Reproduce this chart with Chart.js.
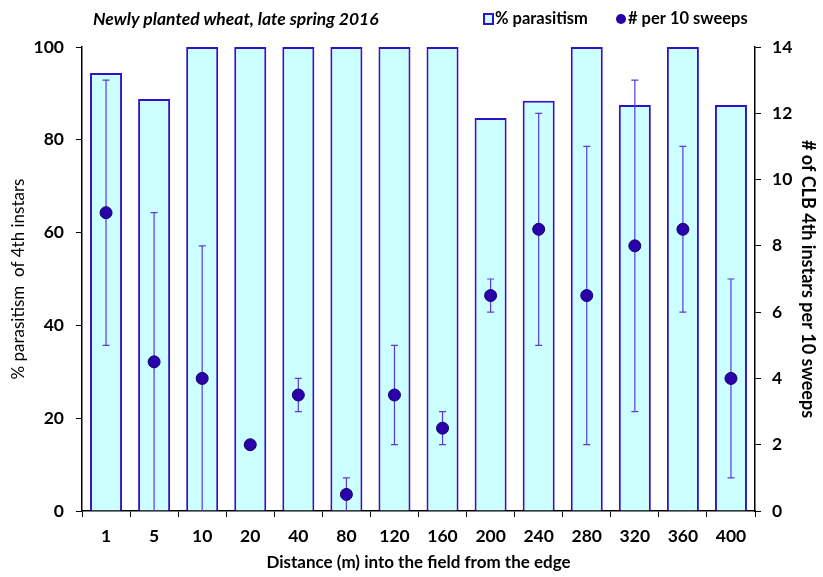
<!DOCTYPE html>
<html>
<head>
<meta charset="utf-8">
<script src="https://cdn.jsdelivr.net/npm/chart.js@4/dist/chart.umd.min.js"></script>
<style>
html,body{margin:0;padding:0;background:#fff;}
#wrap{position:relative;width:823px;height:577px;}
</style>
</head>
<body>
<div id="wrap"><canvas id="c" width="823" height="577"></canvas></div>
<script>
const categories = ["1","5","10","20","40","80","120","160","200","240","280","320","360","400"];
const parasitism = [94.4, 88.8, 100, 100, 100, 100, 100, 100, 84.7, 88.4, 100, 87.5, 100, 87.5];
const perSweeps = [9, 4.5, 4, 2, 3.5, 0.5, 3.5, 2.5, 6.5, 8.5, 6.5, 8, 8.5, 4];
const errLow =  [5, 0, 0, 2, 3, 0, 2, 2, 6, 5, 2, 3, 6, 1];
const errHigh = [13, 9, 8, 2, 4, 1, 5, 3, 7, 12, 11, 13, 11, 7];
const leftTicks = [0, 20, 40, 60, 80, 100];
const rightTicks = [0, 2, 4, 6, 8, 10, 12, 14];

const FONT = 'Lato, "Open Sans", sans-serif';
const barFill = '#ccffff';
const barBorder = '#3311cc';
const pointColor = '#2a00a8';
const errColor = '#5a3ae0';

const errorBars = {
  id: 'errorBars',
  beforeDatasetDraw(chart, args) {
    if (args.index !== 1) return;
    const ctx = chart.ctx;
    const x = chart.scales.x, y = chart.scales.y1;
    ctx.save();
    ctx.strokeStyle = errColor;
    ctx.lineWidth = 1.2;
    categories.forEach((c, i) => {
      if (errLow[i] === errHigh[i]) return;
      const px = x.getPixelForValue(i);
      const lo = y.getPixelForValue(errLow[i]);
      const hi = y.getPixelForValue(errHigh[i]);
      ctx.beginPath();
      ctx.moveTo(px, lo); ctx.lineTo(px, hi);
      ctx.moveTo(px - 3.5, hi); ctx.lineTo(px + 3.5, hi);
      if (errLow[i] > 0) { ctx.moveTo(px - 3.5, lo); ctx.lineTo(px + 3.5, lo); }
      ctx.stroke();
    });
    ctx.restore();
  }
};

const header = {
  id: 'header',
  afterDraw(chart) {
    const ctx = chart.ctx;
    ctx.save();
    ctx.fillStyle = '#000';
    ctx.textBaseline = 'middle';
    ctx.font = 'italic bold 17.5px ' + FONT;
    ctx.fillText('Newly planted wheat, late spring 2016', 93, 19);
    // legend
    ctx.font = 'bold 16.5px ' + FONT;
    ctx.fillStyle = barFill;
    ctx.fillRect(484, 14, 9, 10);
    ctx.strokeStyle = barBorder;
    ctx.lineWidth = 2;
    ctx.strokeRect(484, 14, 9, 10);
    ctx.fillStyle = '#000';
    ctx.fillText('% parasitism', 495, 19);
    ctx.beginPath();
    ctx.fillStyle = pointColor;
    ctx.arc(621, 19, 5, 0, Math.PI * 2);
    ctx.fill();
    ctx.fillStyle = '#000';
    ctx.fillText('# per 10 sweeps', 628, 19);
    ctx.restore();
  }
};

new Chart(document.getElementById('c'), {
  data: {
    labels: categories,
    datasets: [
      {
        type: 'bar',
        label: '% parasitism',
        data: parasitism,
        yAxisID: 'y',
        backgroundColor: barFill,
        borderColor: barBorder,
        borderWidth: 2,
        barPercentage: 0.666,
        categoryPercentage: 1.0,
        order: 1
      },
      {
        type: 'line',
        label: '# per 10 sweeps',
        data: perSweeps,
        yAxisID: 'y1',
        showLine: false,
        pointRadius: 6,
        pointBackgroundColor: pointColor,
        pointBorderColor: '#1a0070',
        pointBorderWidth: 1,
        order: 0
      }
    ]
  },
  options: {
    responsive: false,
    animation: false,
    layout: { padding: { top: 47, left: 0, right: 0, bottom: 0 } },
    plugins: { legend: { display: false }, tooltip: { enabled: false }, title: { display: false } },
    scales: {
      x: {
        afterFit: (s) => { s.height = 66; },
        grid: { display: true, drawOnChartArea: false, drawTicks: true, tickLength: 6, color: '#000', offset: true },
        border: { display: true, color: '#000', width: 1.5 },
        ticks: { color: '#000', font: { family: FONT, size: 17.5, weight: 'bold' }, padding: 9, maxRotation: 0 },
        title: { display: true, text: 'Distance (m) into the field from the edge', color: '#000', font: { family: FONT, size: 17, weight: 'bold' }, padding: { top: 2, bottom: 4 } }
      },
      y: {
        position: 'left',
        min: 0, max: 100,
        afterFit: (s) => { s.width = 82; },
        afterBuildTicks: (s) => { s.ticks = leftTicks.map(v => ({ value: v })); },
        grid: { display: true, drawOnChartArea: false, drawTicks: true, tickLength: 6, color: '#000' },
        border: { display: true, color: '#000', width: 1.5 },
        ticks: { color: '#000', font: { family: FONT, size: 17.5, weight: 'bold' }, padding: 12 },
        title: { display: true, text: '% parasitism  of 4th instars', color: '#000', font: { family: FONT, size: 17, weight: 'normal' }, padding: { top: 8, bottom: 0 } }
      },
      y1: {
        position: 'right',
        min: 0, max: 14,
        afterFit: (s) => { s.width = 68; },
        afterBuildTicks: (s) => { s.ticks = rightTicks.map(v => ({ value: v })); },
        grid: { display: true, drawOnChartArea: false, drawTicks: true, tickLength: 6, color: '#000' },
        border: { display: true, color: '#000', width: 1.5 },
        ticks: { color: '#000', font: { family: FONT, size: 17.5, weight: 'bold' }, padding: 11 },
        title: { display: true, text: '# of CLB 4th instars per 10 sweeps', color: '#000', font: { family: FONT, size: 18, weight: 'bold' }, padding: { top: 4, bottom: 0 } }
      }
    }
  },
  plugins: [errorBars, header]
});
</script>
</body>
</html>
